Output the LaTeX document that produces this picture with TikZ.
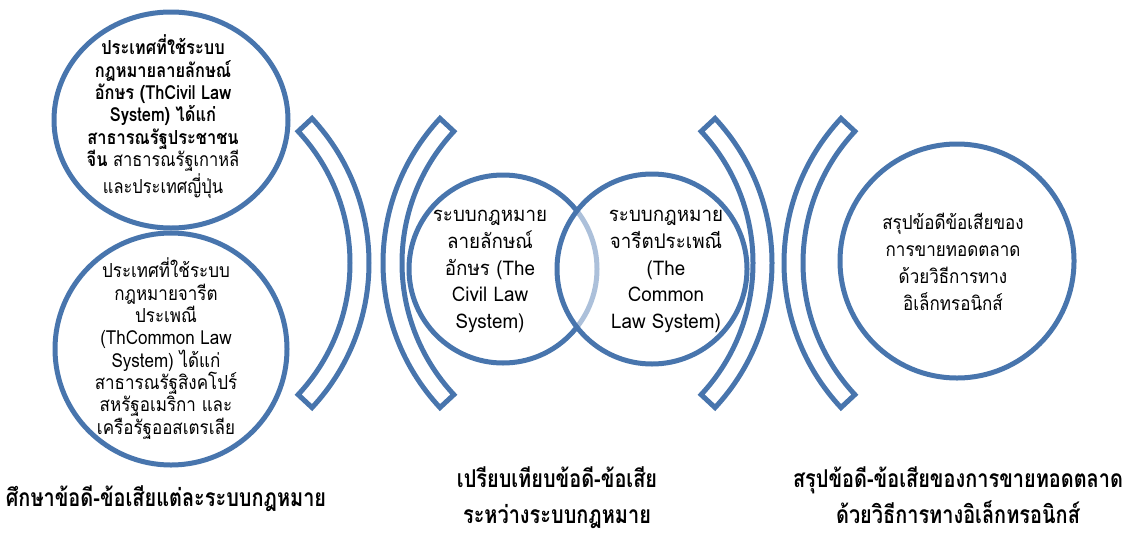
\documentclass[tikz,border=0pt]{standalone}
\usepackage{fontspec}
\setmainfont[Script=Thai]{Loma}
\newfontfamily\thaiA[Script=Thai,FakeStretch=0.85]{Loma}
\newfontfamily\thaiB[Script=Thai,FakeStretch=0.88]{Loma}
\newfontfamily\thaiC[Script=Thai,FakeStretch=0.93]{Loma}
\newfontfamily\thaiD[Script=Thai,FakeStretch=0.88]{Loma}
\newfontfamily\thaiE[Script=Thai,FakeStretch=0.81]{Loma}
\definecolor{sablue}{RGB}{72,117,173}
\newcommand\bandright[1]{\draw[band] (#1) ++(43:212) arc[start angle=43,end angle=-43,radius=212] -- ++(137:19) arc[start angle=-43,end angle=43,radius=193] -- cycle;}
\newcommand\bandleft[1]{\draw[band] (#1) ++(137:212) arc[start angle=137,end angle=223,radius=212] -- ++(43:19) arc[start angle=223,end angle=137,radius=193] -- cycle;}
\begin{document}
\begin{tikzpicture}[x=0.02cm,y=0.02cm,
  ring/.style={draw=sablue,line width=0.1cm},
  band/.style={draw=sablue,line width=0.1cm,line join=miter},
  toptext/.style={align=center,inner sep=0pt,font=\thaiA\fontsize{11}{12.7}\selectfont},
  bottext/.style={align=center,inner sep=0pt,font=\thaiB\fontsize{11}{12.7}\selectfont},
  venntext/.style={align=center,inner sep=0pt,font=\thaiC\fontsize{11.5}{15.1}\selectfont},
  endtext/.style={align=center,inner sep=0pt,font=\thaiD\fontsize{11}{15.3}\selectfont},
  captext/.style={align=center,inner sep=0pt,font=\thaiE\fontsize{14}{20.4}\selectfont\bfseries}]
\useasboundingbox (0,0) rectangle (1138,532);
% left circles
\draw[ring] (171,412) ellipse [x radius=117, y radius=108];
\draw[ring] (171,183) circle [radius=116];
% bands
\coordinate (b1) at (157,269);
\coordinate (b2) at (595,269);
\coordinate (b3) at (560,269);
\coordinate (b4) at (996,269);
\bandright{b1}
\bandleft{b2}
\bandright{b3}
\bandleft{b4}
% venn
\draw[ring] (503,263) circle [radius=94];
\draw[ring,fill=white,fill opacity=0.55] (652,263) circle [radius=95];
% right circle
\draw[ring] (957,271) circle [radius=117];
% texts
\node[toptext] (t1) at (163,415.5) {\bfseries ประเทศที่ใช้ระบบ\\\bfseries กฎหมายลายลักษณ์\\\bfseries อักษร (ThCivil Law\\\bfseries System) ได้แก่\\\bfseries สาธารณรัฐประชาชน\\\bfseries จีน \mdseries สาธารณรัฐเกาหลี\\\mdseries และประเทศญี่ปุ่น};
\node[bottext] (t2) at (166,183.5) {ประเทศที่ใช้ระบบ\\กฎหมายจารีต\\ประเพณี\\(ThCommon Law\\System) ได้แก่\\สาธารณรัฐสิงคโปร์\\สหรัฐอเมริกา และ\\เครือรัฐออสเตรเลีย};
\node[venntext] (t3) at (490,260.5) {ระบบกฎหมาย\\ลายลักษณ์\\อักษร (The\\Civil Law\\System)};
\node[venntext] (t4) at (666,260.5) {ระบบกฎหมาย\\จารีตประเพณี\\(The\\Common\\Law System)};
\node[endtext] (t5) at (953,270) {สรุปข้อดีข้อเสียของ\\การขายทอดตลาด\\ด้วยวิธีการทาง\\อิเล็กทรอนิกส์};
\node[captext] (c1) at (166,33) {ศึกษาข้อดี-ข้อเสียแต่ละระบบกฎหมาย};
\node[captext] (c2) at (557,34) {เปรียบเทียบข้อดี-ข้อเสีย\\ระหว่างระบบกฎหมาย};
\node[captext] (c3) at (958,37) {สรุปข้อดี-ข้อเสียของการขายทอดตลาด\\ด้วยวิธีการทางอิเล็กทรอนิกส์};
\end{tikzpicture}
\end{document}
